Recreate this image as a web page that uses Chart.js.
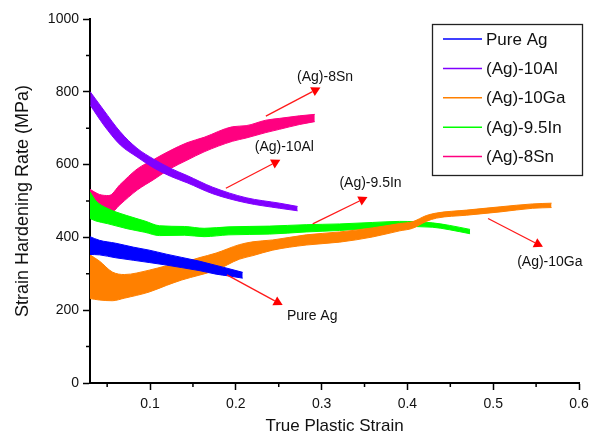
<!DOCTYPE html>
<html>
<head>
<meta charset="utf-8">
<script src="https://cdn.jsdelivr.net/npm/chart.js@4.4.1/dist/chart.umd.min.js"></script>
<style>
  html, body { margin: 0; padding: 0; background: #fff; }
  canvas { display: block; }
</style>
</head>
<body>
<canvas id="chart" width="595" height="435"></canvas>
<script>
const FONT = 'Arial, "Liberation Sans", sans-serif';

const xTickValues = [0.1, 0.2, 0.3, 0.4, 0.5, 0.6];
const xMinorValues = [0.05, 0.15, 0.25, 0.35, 0.45, 0.55];
const yTickValues = [0, 200, 400, 600, 800, 1000];
const yMinorValues = [100, 300, 500, 700, 900];

const seriesNames = ['Pure Ag', '(Ag)-10Al', '(Ag)-10Ga', '(Ag)-9.5In', '(Ag)-8Sn'];
const seriesColors = ['#0000ff', '#8000ff', '#ff8000', '#00ff00', '#ff0080'];

// each trace is noisy, so keep its upper and lower edge (MPa)
const agStrain = [0.030, 0.041, 0.060, 0.081, 0.099, 0.119, 0.137, 0.157, 0.177, 0.192, 0.208];
const agUpper = [402, 392, 384, 373, 365, 354, 345, 335, 323, 314, 304];
const agLower = [353, 352, 344, 337, 331, 324, 317, 309, 299, 294, 288];

const alStrain = [0.0303, 0.0459, 0.0653, 0.0848, 0.1043, 0.1237, 0.1432, 0.173, 0.212, 0.251, 0.272];
const alUpper = [800, 750, 690, 645, 615, 590, 570, 538, 509, 494, 485];
const alLower = [763, 709, 654, 621, 591, 568, 550, 520, 495, 480, 473];

const gaStrain = [0.030, 0.041, 0.056, 0.070, 0.099, 0.119, 0.137, 0.157, 0.177, 0.204, 0.220, 0.243, 0.282, 0.321, 0.359, 0.391, 0.406, 0.422, 0.434, 0.469, 0.508, 0.546, 0.568];
const gaUpper = [352, 335, 305, 298, 310, 322, 330, 344, 357, 380, 388, 393, 407, 415, 426, 438, 443, 460, 467, 475, 484, 492, 494];
const gaLower = [232, 228, 226, 233, 250, 268, 283, 296, 310, 340, 350, 365, 379, 387, 401, 418, 425, 444, 453, 461, 470, 480, 482];

const inStrain = [0.030, 0.037, 0.050, 0.073, 0.094, 0.111, 0.140, 0.163, 0.192, 0.239, 0.282, 0.321, 0.359, 0.391, 0.429, 0.449, 0.473];
const inUpper = [525, 500, 480, 460, 445, 432, 430, 425, 429, 431, 435, 437, 441, 444, 440, 433, 422];
const inLower = [452, 445, 438, 424, 414, 405, 406, 402, 407, 409, 415, 419, 425, 430, 428, 421, 410];

const snStrain = [0.030, 0.041, 0.052, 0.065, 0.085, 0.105, 0.123, 0.143, 0.163, 0.196, 0.212, 0.235, 0.251, 0.274, 0.292];
const snUpper = [532, 518, 515, 545, 588, 615, 638, 660, 675, 704, 707, 722, 727, 734, 738];
const snLower = [465, 460, 462, 490, 530, 560, 588, 612, 635, 664, 673, 688, 697, 710, 718];

// red arrow call-outs, in data units (strain, MPa)
const noteLabels = ['(Ag)-8Sn', '(Ag)-10Al', '(Ag)-9.5In', '(Ag)-10Ga', 'Pure Ag'];
const noteTextAt = [[0.304, 841], [0.2565, 648], [0.357, 549], [0.566, 332], [0.289, 184]];
const noteArrowFrom = [[0.235, 733], [0.1884, 535], [0.2896, 437], [0.494, 452], [0.1896, 297]];
const noteArrowTo = [[0.2986, 812], [0.2519, 613], [0.3535, 511], [0.558, 374], [0.2546, 214]];

function band(label, color, xs, upper, lower) {
  return [
    {
      label: label,
      data: xs.map((x, i) => ({ x: x, y: upper[i] })),
      borderColor: color,
      borderWidth: 1,
      fill: false,
    },
    {
      label: label,
      data: xs.map((x, i) => ({ x: x, y: lower[i] })),
      borderColor: color,
      borderWidth: 1,
      backgroundColor: color,
      fill: '-1',
    },
  ];
}

// first in the list ends up drawn on top
const datasets = [
  ...band(seriesNames[1], seriesColors[1], alStrain, alUpper, alLower),
  ...band(seriesNames[0], seriesColors[0], agStrain, agUpper, agLower),
  ...band(seriesNames[2], seriesColors[2], gaStrain, gaUpper, gaLower),
  ...band(seriesNames[3], seriesColors[3], inStrain, inUpper, inLower),
  ...band(seriesNames[4], seriesColors[4], snStrain, snUpper, snLower),
];

const minorTicks = {
  id: 'minorTicks',
  afterDraw(chart) {
    const { ctx, chartArea, scales } = chart;
    ctx.save();
    ctx.strokeStyle = '#000';
    ctx.lineWidth = 1.5;
    ctx.beginPath();
    yMinorValues.forEach((v) => {
      const y = scales.y.getPixelForValue(v);
      ctx.moveTo(chartArea.left - 4, y);
      ctx.lineTo(chartArea.left, y);
    });
    xMinorValues.forEach((v) => {
      const x = scales.x.getPixelForValue(v);
      ctx.moveTo(x, chartArea.bottom);
      ctx.lineTo(x, chartArea.bottom + 4);
    });
    ctx.stroke();
    ctx.restore();
  },
};

const callouts = {
  id: 'callouts',
  afterDraw(chart) {
    const { ctx, scales } = chart;
    ctx.save();
    noteLabels.forEach((text, i) => {
      const x0 = scales.x.getPixelForValue(noteArrowFrom[i][0]);
      const y0 = scales.y.getPixelForValue(noteArrowFrom[i][1]);
      const x1 = scales.x.getPixelForValue(noteArrowTo[i][0]);
      const y1 = scales.y.getPixelForValue(noteArrowTo[i][1]);
      const len = Math.hypot(x1 - x0, y1 - y0);
      const ux = (x1 - x0) / len;
      const uy = (y1 - y0) / len;
      const headLen = 9;
      const headHalf = 5;
      const bx = x1 - ux * headLen;
      const by = y1 - uy * headLen;

      ctx.strokeStyle = '#ff1a1a';
      ctx.lineWidth = 1.3;
      ctx.beginPath();
      ctx.moveTo(x0, y0);
      ctx.lineTo(bx, by);
      ctx.stroke();

      ctx.fillStyle = '#ff0000';
      ctx.beginPath();
      ctx.moveTo(x1, y1);
      ctx.lineTo(bx - uy * headHalf, by + ux * headHalf);
      ctx.lineTo(bx + uy * headHalf, by - ux * headHalf);
      ctx.closePath();
      ctx.fill();

      ctx.fillStyle = '#111';
      ctx.font = `14px ${FONT}`;
      ctx.textAlign = 'center';
      ctx.textBaseline = 'middle';
      ctx.fillText(text, scales.x.getPixelForValue(noteTextAt[i][0]), scales.y.getPixelForValue(noteTextAt[i][1]));
    });
    ctx.restore();
  },
};

const legendBox = {
  id: 'legendBox',
  afterDraw(chart) {
    const { ctx } = chart;
    const box = { left: 432.5, top: 24.5, width: 150, height: 151 };
    ctx.save();
    ctx.fillStyle = '#fff';
    ctx.fillRect(box.left, box.top, box.width, box.height);
    ctx.strokeStyle = '#222';
    ctx.lineWidth = 1.3;
    ctx.strokeRect(box.left, box.top, box.width, box.height);
    ctx.font = `17px ${FONT}`;
    ctx.textAlign = 'left';
    ctx.textBaseline = 'middle';
    seriesNames.forEach((name, i) => {
      const y = 39 + i * 29.4;
      ctx.strokeStyle = seriesColors[i];
      ctx.lineWidth = 1.5;
      ctx.beginPath();
      ctx.moveTo(443, y);
      ctx.lineTo(482, y);
      ctx.stroke();
      ctx.fillStyle = '#111';
      ctx.fillText(name, 486, y + 1);
    });
    ctx.restore();
  },
};

const chart = new Chart(document.getElementById('chart'), {
  type: 'line',
  data: { datasets: datasets },
  options: {
    responsive: false,
    animation: false,
    layout: { padding: { top: 19, right: 16, left: 0, bottom: 0 } },
    elements: {
      point: { radius: 0 },
      line: { cubicInterpolationMode: 'monotone' },
    },
    plugins: {
      legend: { display: false },
      tooltip: { enabled: false },
    },
    scales: {
      x: {
        type: 'linear',
        min: 0.03,
        max: 0.6,
        afterFit: (scale) => { scale.height = 52; },
        afterBuildTicks: (scale) => { scale.ticks = xTickValues.map((v) => ({ value: v })); },
        border: { display: true, color: '#000', width: 2 },
        grid: { drawOnChartArea: false, tickLength: 7, tickColor: '#000', tickWidth: 1.5 },
        ticks: {
          padding: 6,
          color: '#111',
          font: { family: FONT, size: 14 },
          callback: (v) => String(v),
        },
        title: {
          display: true,
          text: 'True Plastic Strain',
          color: '#111',
          font: { family: FONT, size: 17, lineHeight: 1 },
          padding: { top: 0, bottom: 0 },
        },
      },
      y: {
        min: 0,
        max: 1000,
        afterFit: (scale) => { scale.width = 90; },
        afterBuildTicks: (scale) => { scale.ticks = yTickValues.map((v) => ({ value: v })); },
        border: { display: true, color: '#000', width: 2 },
        grid: { drawOnChartArea: false, tickLength: 7, tickColor: '#000', tickWidth: 1.5 },
        ticks: {
          padding: 4,
          color: '#111',
          font: { family: FONT, size: 14 },
          callback: (v) => String(v),
        },
        title: {
          display: true,
          text: 'Strain Hardening Rate (MPa)',
          color: '#111',
          font: { family: FONT, size: 18, lineHeight: 1 },
          padding: { top: 14, bottom: 0 },
        },
      },
    },
  },
  plugins: [minorTicks, callouts, legendBox],
});
</script>
</body>
</html>
